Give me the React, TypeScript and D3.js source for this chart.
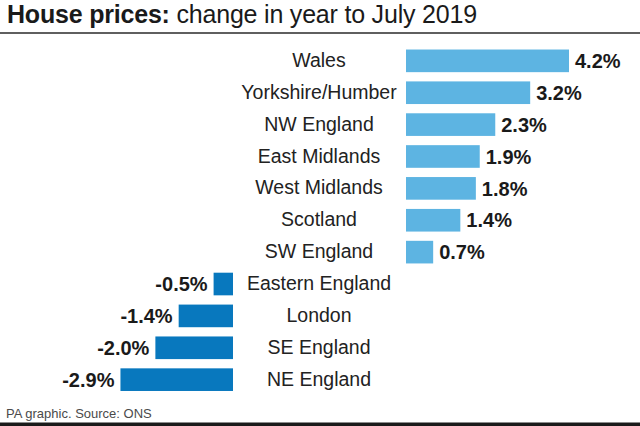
import React from "react";
import * as d3 from "d3";

const regions = [
  "Wales",
  "Yorkshire/Humber",
  "NW England",
  "East Midlands",
  "West Midlands",
  "Scotland",
  "SW England",
  "Eastern England",
  "London",
  "SE England",
  "NE England",
];
const changes = [4.2, 3.2, 2.3, 1.9, 1.8, 1.4, 0.7, -0.5, -1.4, -2.0, -2.9];
const valueLabels = ["4.2%", "3.2%", "2.3%", "1.9%", "1.8%", "1.4%", "0.7%", "-0.5%", "-1.4%", "-2.0%", "-2.9%"];

const W = 640;
const H = 426;
const POS_ZERO = 406;
const NEG_ZERO = 233;
const LABEL_X = 319;
const FONT = "'Liberation Sans', Arial, sans-serif";

export default function App() {
  const y = d3
    .scaleBand<string>()
    .domain(regions)
    .range([44.9, 395.6])
    .paddingInner(0.29)
    .paddingOuter(0.145);
  const len = d3.scaleLinear().domain([0, 4.2]).range([0, 163]);

  return (
    <svg
      width={W}
      height={H}
      style={{ position: "absolute", left: 0, top: 0, background: "#fff" }}
      fontFamily={FONT}
    >
      <rect x={0} y={0} width={W} height={H} fill="#fff" />
      <text x={7} y={22.5} fontSize={25} fill="#1a1a1a" letterSpacing={-0.2}>
        <tspan fontWeight="bold">House prices:</tspan>
        <tspan> change in year to July 2019</tspan>
      </text>
      <rect x={0} y={32} width={W} height={2} fill="#5f5f5f" />
      {regions.map((r, i) => {
        const v = changes[i];
        const yy = y(r)!;
        const bw = y.bandwidth();
        const cy = yy + bw / 2;
        const l = len(Math.abs(v));
        const pos = v >= 0;
        return (
          <g key={r}>
            <rect
              x={pos ? POS_ZERO : NEG_ZERO - l}
              y={yy}
              width={l}
              height={bw}
              fill={pos ? "#5db4e2" : "#0878be"}
            />
            <text
              x={LABEL_X}
              y={cy}
              dy="0.31em"
              textAnchor="middle"
              fontSize={19.5}
              fill="#222"
            >
              {r}
            </text>
            <text
              x={pos ? POS_ZERO + l + 6 : NEG_ZERO - l - 6}
              y={cy}
              dy="0.36em"
              textAnchor={pos ? "start" : "end"}
              fontSize={20}
              fontWeight="bold"
              fill="#1a1a1a"
            >
              {valueLabels[i]}
            </text>
          </g>
        );
      })}
      <text x={6} y={417.5} fontSize={13} fill="#4a4a4a">
        PA graphic. Source: ONS
      </text>
      <rect x={0} y={422.5} width={W} height={3.5} fill="#1a1a1a" />
    </svg>
  );
}
